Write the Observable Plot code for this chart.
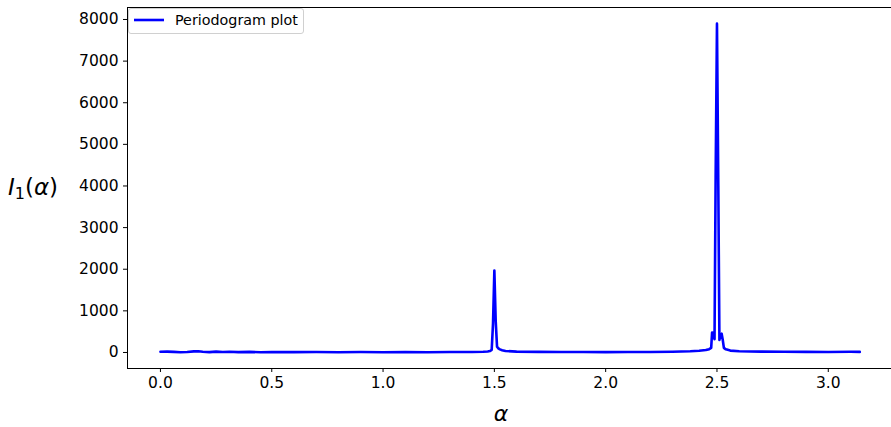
<!DOCTYPE html>
<html>
<head>
<meta charset="utf-8">
<script src="https://cdn.jsdelivr.net/npm/d3@7"></script>
<script src="https://cdn.jsdelivr.net/npm/@observablehq/plot@0.6"></script>
<style>
  html, body { margin: 0; padding: 0; background: #fff; }
  #wrap { position: relative; width: 891px; height: 427px; overflow: hidden; }
  #legend { position: absolute; left: 128px; top: 8px; width: 174px; height: 24px;
    border: 1px solid #d0d0d0; border-radius: 3px; background: rgba(255,255,255,0.85);
    font-family: "DejaVu Sans", sans-serif; font-size: 14.3px; color: #000; }
  #legend svg { position: absolute; left: 0; top: 0; }
  #legend span { position: absolute; left: 46px; top: 3px; white-space: nowrap; }
</style>
</head>
<body>
<div id="wrap"></div>
<script>
// Frequencies (alpha) and periodogram values
const alpha = [0.00, 0.03, 0.06, 0.09, 0.12, 0.15, 0.17, 0.19, 0.22, 0.25, 0.28, 0.31, 0.35, 0.40, 0.45, 0.50,
  0.60, 0.70, 0.80, 0.90, 1.00, 1.10, 1.20, 1.30, 1.40, 1.45, 1.47, 1.48, 1.488, 1.494, 1.500, 1.506, 1.512, 1.518,
  1.525, 1.535, 1.55, 1.60, 1.70, 1.80, 1.90, 2.00, 2.10, 2.20, 2.30, 2.38, 2.42, 2.45, 2.465, 2.474, 2.478, 2.484,
  2.489, 2.494, 2.500, 2.506, 2.511, 2.516, 2.521, 2.526, 2.531, 2.54, 2.56, 2.60, 2.70, 2.80, 2.90, 3.00, 3.10, 3.1416];
const periodogram = [18, 20, 14, 6, 12, 26, 30, 18, 8, 20, 10, 16, 8, 14, 6, 12,
  9, 12, 6, 10, 5, 8, 6, 10, 12, 18, 25, 35, 60, 700, 1970, 760, 140, 100,
  75, 55, 35, 20, 14, 10, 12, 8, 10, 12, 18, 28, 40, 60, 80, 110, 480, 470,
  320, 4200, 7900, 4000, 300, 420, 450, 300, 110, 75, 45, 30, 20, 18, 14, 12, 16, 14];
const xTicks = [0.0, 0.5, 1.0, 1.5, 2.0, 2.5, 3.0];
const yTicks = [0, 1000, 2000, 3000, 4000, 5000, 6000, 7000, 8000];
const seriesLabel = "Periodogram plot";

const table = alpha.map((a, i) => ({a, v: periodogram[i]}));
const xDom = [-0.148, 3.284];
const yDom = [-385, 8288];

const plot = Plot.plot({
  width: 891, height: 427,
  marginLeft: 127, marginRight: 0, marginTop: 7, marginBottom: 59,
  style: {fontFamily: "DejaVu Sans, sans-serif", fontSize: "15.5px", color: "#000", background: "#fff"},
  x: {domain: xDom, ticks: xTicks, tickFormat: d => d.toFixed(1), tickSize: 4, tickPadding: 4, label: null},
  y: {domain: yDom, ticks: yTicks, tickFormat: d => String(d), tickSize: 4, tickPadding: 5, label: null},
  marks: [
    Plot.line(table, {x: "a", y: "v", stroke: "#0000ff", strokeWidth: 2.6, strokeLinejoin: "round"}),
    Plot.ruleX([xDom[0]], {stroke: "#000", strokeWidth: 1}),
    Plot.ruleY(yDom, {stroke: "#000", strokeWidth: 1})
  ]
});
document.getElementById("wrap").appendChild(plot);

const svg = d3.select(plot);
// y label I_1(alpha)
const yl = svg.append("text")
  .attr("x", 33).attr("y", 195)
  .attr("text-anchor", "middle")
  .style("font-family", "DejaVu Sans, sans-serif").style("font-size", "23px").attr("fill", "#000");
yl.append("tspan").style("font-style", "italic").text("I");
yl.append("tspan").attr("dy", 4).style("font-size", "16px").text("1");
yl.append("tspan").attr("dy", -4).text("(");
yl.append("tspan").style("font-style", "italic").text("α");
yl.append("tspan").text(")");
// x label alpha
svg.append("text")
  .attr("x", 501).attr("y", 421)
  .attr("text-anchor", "middle")
  .style("font-family", "DejaVu Sans, sans-serif").style("font-size", "22px").style("font-style", "italic")
  .attr("fill", "#000").text("α");

// legend
const lg = document.createElement("div");
lg.id = "legend";
lg.innerHTML = '<svg width="46" height="24"><line x1="5" x2="35" y1="11" y2="11" stroke="#0000ff" stroke-width="2.6"/></svg><span></span>';
lg.querySelector("span").textContent = seriesLabel;
document.getElementById("wrap").appendChild(lg);
</script>
</body>
</html>
